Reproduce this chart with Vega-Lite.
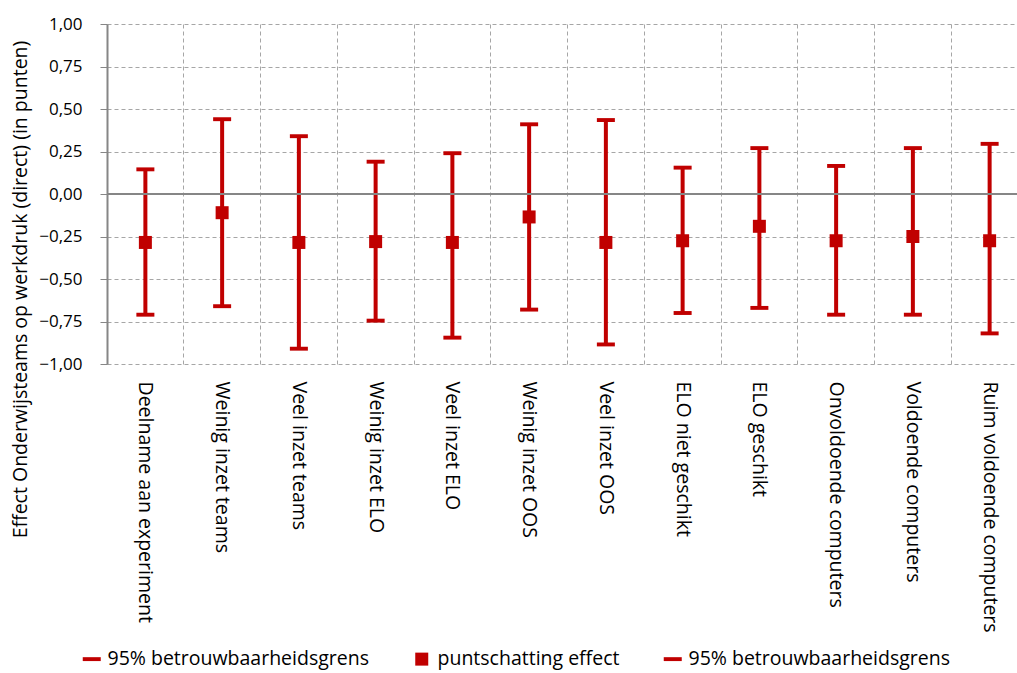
{
  "$schema": "https://vega.github.io/schema/vega-lite/v6.json",
  "autosize": {"type": "none"},
  "padding": {"left": 107, "top": 24, "right": 0, "bottom": 309},
  "width": 910,
  "height": 340,
  "background": "white",
  "config": {
    "view": {"stroke": null},
    "locale": {"number": {"decimal": ",", "thousands": ".", "grouping": [3], "currency": ["€", ""]}},
    "font": "Open Sans"
  },
  "data": {
    "values": [
      {"categorie": "Deelname aan experiment", "lower": -0.71, "point": -0.285, "upper": 0.145},
      {"categorie": "Weinig inzet teams", "lower": -0.66, "point": -0.11, "upper": 0.44},
      {"categorie": "Veel inzet teams", "lower": -0.91, "point": -0.285, "upper": 0.34},
      {"categorie": "Weinig inzet ELO", "lower": -0.745, "point": -0.28, "upper": 0.19},
      {"categorie": "Veel inzet ELO", "lower": -0.845, "point": -0.285, "upper": 0.24},
      {"categorie": "Weinig inzet OOS", "lower": -0.68, "point": -0.135, "upper": 0.41},
      {"categorie": "Veel inzet OOS", "lower": -0.885, "point": -0.285, "upper": 0.435},
      {"categorie": "ELO niet geschikt", "lower": -0.70, "point": -0.275, "upper": 0.155},
      {"categorie": "ELO geschikt", "lower": -0.67, "point": -0.19, "upper": 0.27},
      {"categorie": "Onvoldoende computers", "lower": -0.71, "point": -0.275, "upper": 0.165},
      {"categorie": "Voldoende computers", "lower": -0.71, "point": -0.25, "upper": 0.27},
      {"categorie": "Ruim voldoende computers", "lower": -0.82, "point": -0.275, "upper": 0.295}
    ]
  },
  "encoding": {
    "x": {
      "field": "categorie",
      "type": "nominal",
      "sort": null,
      "scale": {"paddingInner": 0, "paddingOuter": 0, "range": [0, 921]},
      "axis": {
        "title": null,
        "grid": true,
        "bandPosition": 0,
        "gridDash": [4, 3],
        "gridColor": "#A6A6A6",
        "gridWidth": 1,
        "domain": false,
        "ticks": false,
        "labelAngle": 90,
        "labelAlign": "left",
        "labelBaseline": "middle",
        "labelPadding": 17,
        "labelFont": "Open Sans",
        "labelFontSize": 19.5,
        "labelColor": "#000000",
        "labelLimit": 0
      }
    }
  },
  "layer": [
    {
      "mark": {"type": "rule", "color": "#C00000", "strokeWidth": 4},
      "encoding": {
        "y": {
          "field": "lower",
          "type": "quantitative",
          "scale": {"domain": [-1, 1], "nice": false, "zero": false},
          "axis": {
            "title": "Effect Onderwijsteams op werkdruk (direct) (in punten)",
            "titleFont": "Open Sans",
            "titleFontSize": 19.5,
            "titleFontWeight": "normal",
            "titleColor": "#000000",
            "titleAngle": 270,
            "titleX": -87,
            "titleY": 265,
            "titleAlign": "center",
            "titleAnchor": "middle",
            "titleBaseline": "middle",
            "values": [-1, -0.75, -0.5, -0.25, 0, 0.25, 0.5, 0.75, 1],
            "format": ".2f",
            "grid": true,
            "gridDash": [4, 3],
            "gridColor": "#A6A6A6",
            "gridWidth": 1,
            "domain": true,
            "domainColor": "#868686",
            "domainWidth": 2,
            "ticks": true,
            "tickSize": 7,
            "tickColor": "#868686",
            "tickWidth": 1,
            "labelFont": "Open Sans",
            "labelFontSize": 17,
            "labelColor": "#000000",
            "labelPadding": 18
          }
        },
        "y2": {"field": "upper"}
      }
    },
    {
      "mark": {"type": "rule", "color": "#868686", "strokeWidth": 2},
      "encoding": {"y": {"datum": 0, "type": "quantitative"}, "x": null}
    },
    {
      "transform": [{"fold": ["lower", "point", "upper"], "as": ["kind", "value"]}],
      "mark": {"type": "point", "filled": true, "opacity": 1, "strokeWidth": 0, "color": "#C00000", "size": 169},
      "encoding": {
        "y": {"field": "value", "type": "quantitative"},
        "shape": {
          "field": "kind",
          "type": "nominal",
          "scale": {
            "domain": ["lower", "point", "upper"],
            "range": ["M-1.385,-0.3H1.385V0.3H-1.385Z", "square", "M-1.385,-0.3H1.385V0.3H-1.385Z"]
          },
          "legend": {
            "orient": "none",
            "direction": "horizontal",
            "legendX": -25,
            "legendY": 625,
            "title": null,
            "labelExpr": "datum.label == 'point' ? 'puntschatting effect' : '95% betrouwbaarheidsgrens'",
            "labelFont": "Open Sans",
            "labelFontSize": 19.5,
            "labelColor": "#000000",
            "labelOffset": 6,
            "labelLimit": 0,
            "symbolSize": 169,
            "symbolFillColor": "#C00000",
            "symbolStrokeColor": "#C00000",
            "symbolStrokeWidth": 0,
            "symbolOpacity": 1,
            "columnPadding": 43
          }
        }
      }
    }
  ]
}
